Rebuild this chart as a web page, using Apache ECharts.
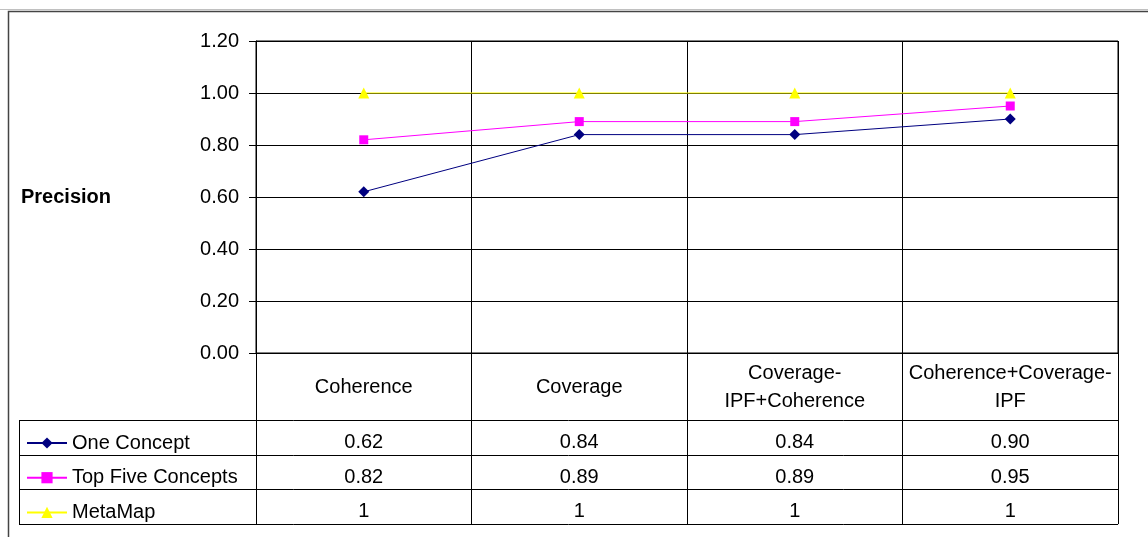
<!DOCTYPE html>
<html>
<head>
<meta charset="utf-8">
<script src="https://cdn.jsdelivr.net/npm/echarts@6/dist/echarts.min.js"></script>
<style>
  html, body { margin: 0; padding: 0; background: #fff; }
  #chart { width: 1148px; height: 537px; }
</style>
</head>
<body>
<div id="chart"></div>
<script>
// Precision of each scoring method
var categories = ['Coherence', 'Coverage', 'Coverage-\nIPF+Coherence', 'Coherence+Coverage-\nIPF'];
var oneConcept = [0.62, 0.84, 0.84, 0.90];
var topFiveConcepts = [0.82, 0.89, 0.89, 0.95];
var metaMap = [1, 1, 1, 1];
var yTicks = ['0.00', '0.20', '0.40', '0.60', '0.80', '1.00', '1.20'];

var FONT = 'Arial, "Liberation Sans", sans-serif';
var INK = '#000';

var seriesDefs = [
  { name: 'One Concept', data: oneConcept, color: '#000080', symbol: 'diamond', size: 11, fmt: function (v) { return v.toFixed(2); } },
  { name: 'Top Five Concepts', data: topFiveConcepts, color: '#ff00ff', symbol: 'rect', size: 9, fmt: function (v) { return v.toFixed(2); } },
  { name: 'MetaMap', data: metaMap, color: '#ffff00', symbol: 'triangle', size: 11, fmt: function (v) { return String(v); } }
];

var chart = echarts.init(document.getElementById('chart'), null, { renderer: 'canvas' });

var gridLeft = 256, gridRight = 1118, gridTop = 41, gridBottom = 353;
var tableTop = 420, rowH = 34.7, tableLeft = 19;

chart.setOption({
  animation: false,
  backgroundColor: '#fff',
  grid: {
    left: gridLeft, top: gridTop, right: 1148 - gridRight, bottom: 537 - gridBottom,
    show: true, borderColor: INK, borderWidth: 1, backgroundColor: 'transparent'
  },
  xAxis: {
    type: 'category',
    data: categories,
    boundaryGap: true,
    axisLine: { show: true, lineStyle: { color: INK, width: 1 } },
    axisTick: { show: true, length: tableTop + 3 * rowH - gridBottom, lineStyle: { color: INK, width: 1 } },
    splitLine: { show: true, lineStyle: { color: INK, width: 1 } },
    axisLabel: {
      interval: 0, margin: 34, verticalAlign: 'middle',
      fontFamily: FONT, fontSize: 20, lineHeight: 28, color: INK, align: 'center'
    }
  },
  yAxis: {
    type: 'value',
    min: 0, max: 1.2, interval: 0.2,
    name: 'Precision',
    nameLocation: 'middle',
    nameRotate: 0,
    nameGap: 235,
    nameTextStyle: { fontFamily: FONT, fontSize: 20, fontWeight: 'bold', color: INK, align: 'left' },
    axisLine: { show: true, lineStyle: { color: INK, width: 1 } },
    axisTick: { show: true, length: 7, lineStyle: { color: INK, width: 1 } },
    splitLine: { show: true, lineStyle: { color: INK, width: 1 } },
    axisLabel: {
      margin: 17, fontFamily: FONT, fontSize: 20, color: INK,
      formatter: function (v) { return yTicks[Math.round(v / 0.2)]; }
    }
  },
  legend: {
    orient: 'vertical',
    left: 26, top: tableTop + 13,
    padding: 0,
    itemWidth: 40, itemHeight: 14, itemGap: 14.7,
    textStyle: { fontFamily: FONT, fontSize: 20, lineHeight: 20, color: INK, padding: [0, 0, 0, 0] },
    data: seriesDefs.map(function (s) { return s.name; })
  },
  series: seriesDefs.map(function (s) {
    return {
      name: s.name, type: 'line', data: s.data,
      symbol: s.symbol, symbolSize: s.size, showSymbol: true,
      lineStyle: { color: s.color, width: 1 },
      itemStyle: { color: s.color },
      z: 3
    };
  })
});

// Data table beneath the plot, sized from the category axis
function buildTable() {
  var els = [];
  // spreadsheet gridline and chart-area frame
  els.push({ type: 'line', shape: { x1: 0, y1: 9.5, x2: 1148, y2: 9.5 }, style: { stroke: '#c0c0c0', lineWidth: 1 }, silent: true });
  els.push({ type: 'rect', shape: { x: 8.5, y: 11.5, width: 1160, height: 560 }, style: { fill: null, stroke: '#444', lineWidth: 1.5 }, silent: true });

  for (var r = 0; r <= 3; r++) {
    var y = Math.round(tableTop + r * rowH) + 0.5;
    els.push({ type: 'line', shape: { x1: tableLeft, y1: y, x2: gridRight, y2: y }, style: { stroke: INK, lineWidth: 1 }, silent: true });
  }
  els.push({ type: 'line', shape: { x1: tableLeft + 0.5, y1: tableTop, x2: tableLeft + 0.5, y2: tableTop + 3 * rowH + 0.5 }, style: { stroke: INK, lineWidth: 1 }, silent: true });

  seriesDefs.forEach(function (s, r) {
    var cy = tableTop + (r + 0.5) * rowH + 5;
    s.data.forEach(function (v, i) {
      var cx = chart.convertToPixel({ xAxisIndex: 0 }, i);
      els.push({
        type: 'text', x: cx, y: cy, silent: true,
        style: { text: s.fmt(v), fontFamily: FONT, fontSize: 20, fill: INK, align: 'center', verticalAlign: 'middle' }
      });
    });
  });
  chart.setOption({ graphic: { elements: els } });
}
buildTable();
</script>
</body>
</html>
